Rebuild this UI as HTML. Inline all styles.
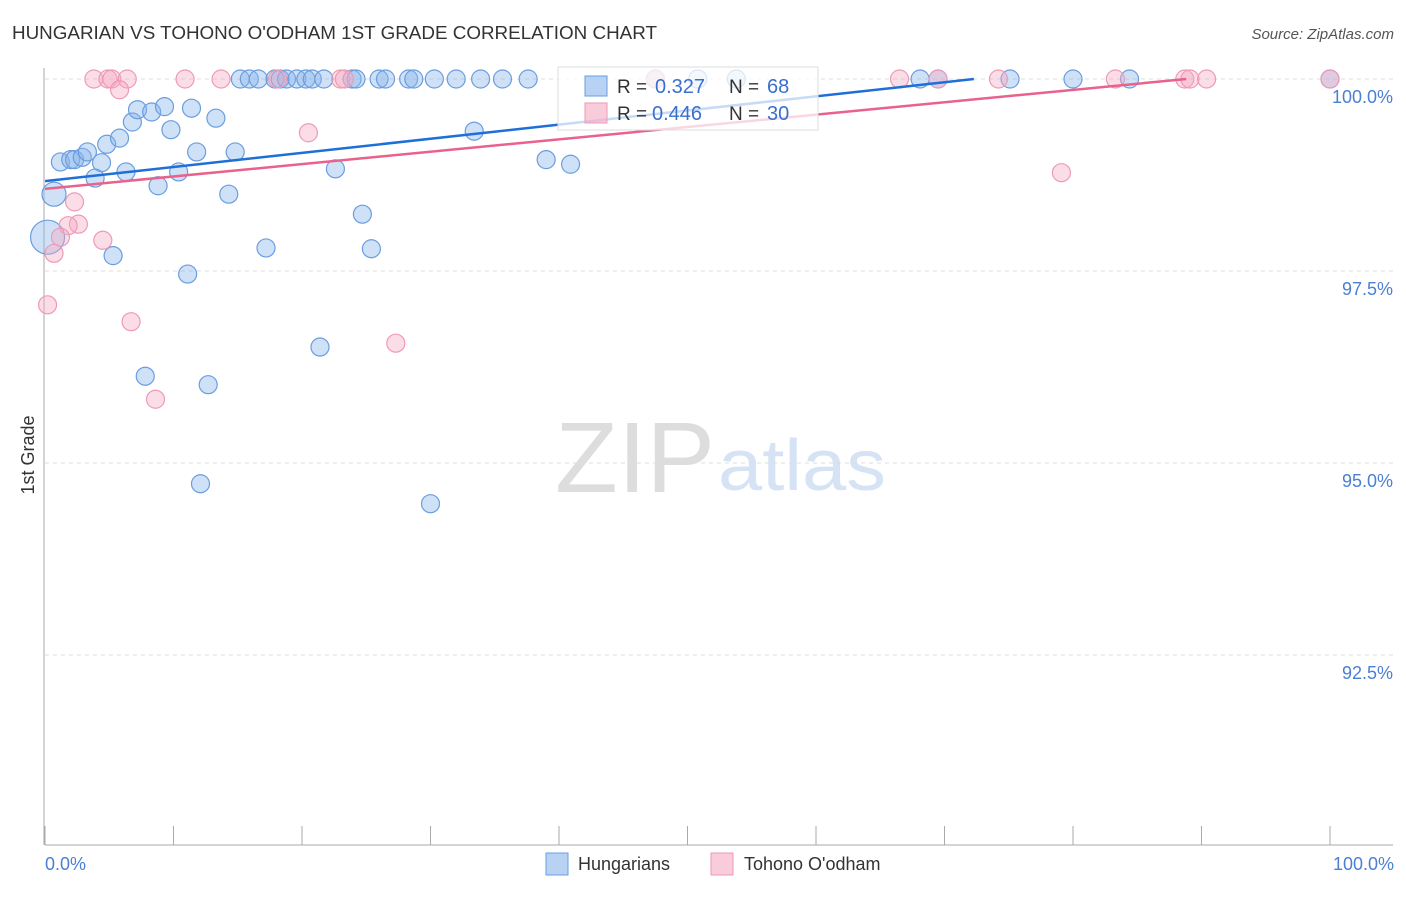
<!DOCTYPE html>
<html><head><meta charset="utf-8"><style>
body{margin:0;background:#fff;font-family:"Liberation Sans",sans-serif}
svg text{font-family:"Liberation Sans",sans-serif}
</style></head><body>
<svg id="chart" width="1406" height="892">
<text x="12" y="39" font-size="18" fill="#333" textLength="645" lengthAdjust="spacingAndGlyphs">HUNGARIAN VS TOHONO O'ODHAM 1ST GRADE CORRELATION CHART</text>
<text x="1394" y="39" font-size="15" fill="#555" text-anchor="end" font-style="italic">Source: ZipAtlas.com</text>
<g>
<text x="555" y="492" font-size="100" fill="#ddd" textLength="160" lengthAdjust="spacingAndGlyphs" font-family="Liberation Serif, serif">ZIP</text>
<text x="718" y="490" font-size="72" fill="#d5e3f5" textLength="168" lengthAdjust="spacingAndGlyphs">atlas</text>
</g>
<g id="grid"></g>
<g id="axes"></g>
<g id="marks"></g>
<text transform="translate(34,455) rotate(-90)" font-size="18" fill="#333" text-anchor="middle">1st Grade</text>
<text x="45" y="870" font-size="18" fill="#4a7fd4">0.0%</text>
<text x="1394" y="870" font-size="18" fill="#4a7fd4" text-anchor="end">100.0%</text>
<g>
<rect x="558" y="67" width="260" height="63" fill="rgba(255,255,255,0.75)" stroke="#ddd"/>
<rect x="585" y="76" width="22" height="20" fill="rgba(135,180,235,0.6)" stroke="#6a9de0"/>
<rect x="585" y="103" width="22" height="20" fill="rgba(245,170,195,0.6)" stroke="#ef9ab5"/>
<text x="617" y="93" font-size="19" fill="#333">R =</text>
<text x="655" y="93" font-size="20" fill="#3a6fd0">0.327</text>
<text x="729" y="93" font-size="19" fill="#333">N =</text>
<text x="767" y="93" font-size="20" fill="#3a6fd0">68</text>
<text x="617" y="120" font-size="19" fill="#333">R =</text>
<text x="652" y="120" font-size="20" fill="#3a6fd0">0.446</text>
<text x="729" y="120" font-size="19" fill="#333">N =</text>
<text x="767" y="120" font-size="20" fill="#3a6fd0">30</text>
</g>
<g>
<rect x="546" y="853" width="22" height="22" fill="rgba(135,180,235,0.6)" stroke="#6a9de0"/>
<text x="578" y="870" font-size="18" fill="#333">Hungarians</text></g>
<g>
<rect x="711" y="853" width="22" height="22" fill="rgba(245,170,195,0.6)" stroke="#ef9ab5"/>
<text x="744" y="870" font-size="18" fill="#333">Tohono O'odham</text></g>
</svg>
<script>
const yTicks=[100,97.5,95,92.5];
const yTickLabels=["100.0%","97.5%","95.0%","92.5%"];
const xTicks=[0,10,20,30,40,50,60,70,80,90,100];
const blueX=[15.2,15.9,16.6,17.9,18.3,18.8,19.6,20.3,20.8,21.7,23.9,24.2,26.0,26.5,28.3,28.7,30.3,32.0,33.9,35.6,37.6,47.5,50.8,53.8,68.1,69.5,75.1,80.0,84.4,100,
0.7,1.2,2.0,2.3,2.9,3.3,4.4,3.9,4.8,5.8,6.8,7.2,8.3,9.3,11.4,9.8,13.3,11.8,14.8,10.4,6.3,8.8,14.3,22.6,24.7,17.2,25.4,5.3,11.1,21.4,7.8,12.7,12.1,30.0,33.4,39.0,40.9,0.2];
const blueY=[100,100,100,100,100,100,100,100,100,100,100,100,100,100,100,100,100,100,100,100,100,100,100,100,100,100,100,100,100,100,
98.50,98.92,98.95,98.95,98.98,99.05,98.91,98.71,99.15,99.23,99.44,99.60,99.57,99.64,99.62,99.34,99.49,99.05,99.05,98.79,98.79,98.61,98.50,98.83,98.24,97.80,97.79,97.70,97.46,96.51,96.13,96.02,94.73,94.47,99.32,98.95,98.89,97.94];
const pinkX=[3.8,4.9,5.2,6.4,10.9,13.7,18.1,23.0,23.3,47.5,66.5,69.5,74.2,83.3,88.7,89.1,90.4,100,
5.8,20.5,2.3,2.6,1.8,1.2,4.5,0.7,0.2,6.7,27.3,8.6,79.1];
const pinkY=[100,100,100,100,100,100,100,100,100,100,100,100,100,100,100,100,100,100,
99.86,99.30,98.40,98.11,98.09,97.94,97.90,97.73,97.06,96.84,96.56,95.83,98.78];
const blueTrend=[98.67,0.0184];
const pinkTrend=[98.57,0.0161];
const NS="http://www.w3.org/2000/svg";
const xs=v=>45+v*12.85;
const ys=v=>79+(100-v)*76.8;
function mk(tag,attrs,parent){const e=document.createElementNS(NS,tag);for(const k in attrs)e.setAttribute(k,attrs[k]);document.getElementById(parent).appendChild(e);return e;}
yTicks.forEach((t,i)=>{
 const l=mk('line',{x1:45,x2:1393,y1:ys(t),y2:ys(t),stroke:'#ddd','stroke-dasharray':'4,4'},'grid');
 
 
 const tx=mk('text',{x:1393,y:ys(t)+24,'font-size':18,fill:'#4a7fd4','text-anchor':'end'},'grid');
 tx.textContent=yTickLabels[i];
 
 
});
const ya=mk('line',{x1:44,x2:44,y1:68,y2:845,stroke:'#aaa'},'axes');


const xa=mk('line',{x1:45,x2:1393,y1:845,y2:845,stroke:'#aaa'},'axes');


xTicks.forEach(t=>{
 const l=mk('line',{x1:xs(t),x2:xs(t),y1:826,y2:845,stroke:'#aaa'},'axes');
 
 
});
function pts(X,Y,fill,stroke,name){X.forEach((x,i)=>{
 const r=(name==='hungarian-point'&&i===X.length-1)?17:(name==='hungarian-point'&&i===30?12:9);
 const c=mk('circle',{cx:xs(x),cy:ys(Y[i]),r:r,fill:fill,stroke:stroke,'stroke-width':1.2},'marks');
 
 
});}
pts(blueX,blueY,'rgba(135,180,235,0.4)','#6a9de0','hungarian-point');
pts(pinkX,pinkY,'rgba(245,170,195,0.4)','#ef9ab5','tohono-point');
function trend(p,color,name){
 const xEnd=Math.min(100,(100-p[0])/p[1]);
 const l=mk('line',{x1:xs(0),y1:ys(p[0]),x2:xs(xEnd),y2:ys(p[0]+p[1]*xEnd),stroke:color,'stroke-width':2.5},'marks');
 
 
}
trend(blueTrend,'#1f6fd8','hungarian-trend-line');
trend(pinkTrend,'#e8628c','tohono-trend-line');
</script>
</body></html>
